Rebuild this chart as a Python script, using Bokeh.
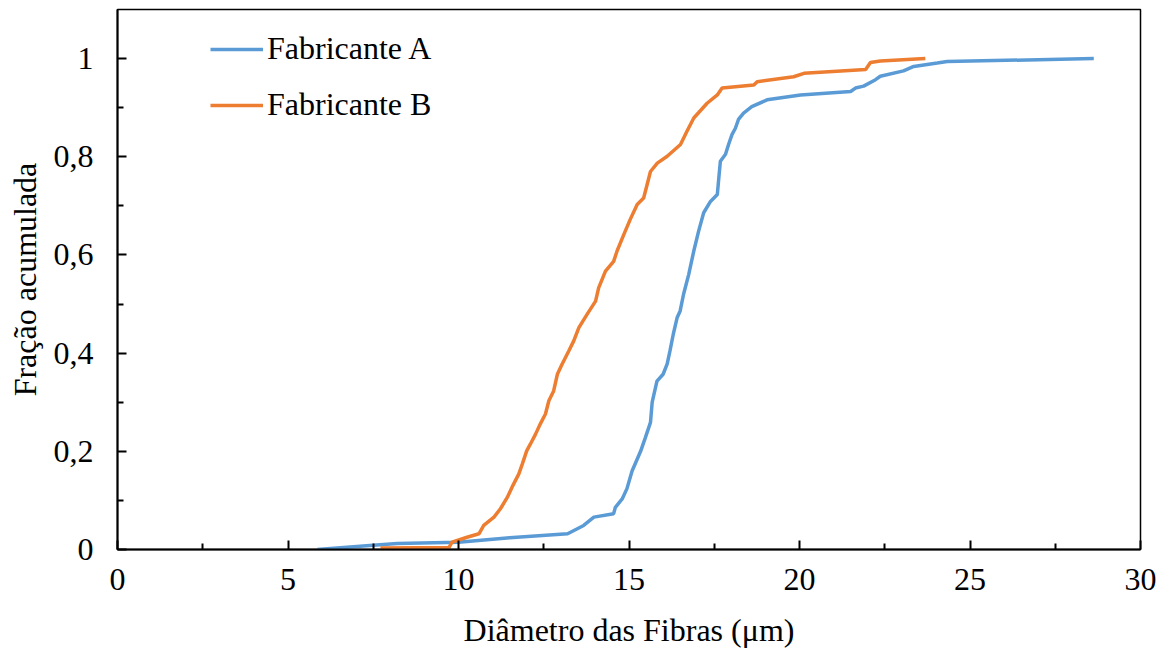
from bokeh.plotting import figure
from bokeh.models import Range1d, FixedTicker, CustomJSTickFormatter, Legend, LegendItem
from bokeh.embed import file_html
from bokeh.resources import INLINE

# Fabricante A
xA = [5.86, 7.4, 8.2, 10.0, 11.5, 13.2, 13.67, 13.97, 14.55, 14.6, 14.8, 14.94, 15.09, 15.34,
      15.48, 15.63, 15.68, 15.82, 16.0, 16.12, 16.2, 16.3, 16.41, 16.5, 16.6, 16.75, 16.9,
      17.04, 17.19, 17.39, 17.59, 17.63, 17.68, 17.83, 17.92, 18.02, 18.12, 18.21, 18.36,
      18.6, 19.05, 20.03, 21.5, 21.64, 21.88, 22.23, 22.37, 23.05, 23.35, 24.04, 24.33, 28.63]
yA = [0.0, 0.008, 0.012, 0.015, 0.024, 0.032, 0.049, 0.066, 0.073, 0.086, 0.103, 0.124, 0.16,
      0.20, 0.228, 0.259, 0.30, 0.343, 0.357, 0.378, 0.404, 0.439, 0.472, 0.486, 0.52, 0.56,
      0.608, 0.648, 0.686, 0.709, 0.723, 0.754, 0.791, 0.805, 0.825, 0.845, 0.858, 0.876,
      0.889, 0.902, 0.916, 0.926, 0.933, 0.94, 0.944, 0.957, 0.964, 0.975, 0.984, 0.991,
      0.994, 1.0]

# Fabricante B
xB = [7.71, 9.72, 9.81, 10.25, 10.6, 10.74, 11.04, 11.23, 11.43, 11.57, 11.77, 11.87, 12.0,
      12.11, 12.26, 12.4, 12.55, 12.65, 12.79, 12.9, 13.04, 13.23, 13.38, 13.53, 13.77, 14.02,
      14.11, 14.31, 14.55, 14.65, 14.85, 15.04, 15.24, 15.43, 15.53, 15.63, 15.83, 16.12,
      16.51, 16.7, 16.9, 17.29, 17.59, 17.73, 18.66, 18.76, 19.83, 20.13, 21.94, 22.08,
      22.37, 23.69]
yB = [0.003, 0.004, 0.015, 0.025, 0.032, 0.049, 0.066, 0.083, 0.106, 0.127, 0.154, 0.174,
      0.201, 0.215, 0.235, 0.256, 0.276, 0.303, 0.323, 0.357, 0.378, 0.404, 0.425, 0.452,
      0.479, 0.506, 0.533, 0.567, 0.587, 0.608, 0.642, 0.673, 0.703, 0.716, 0.743, 0.77,
      0.787, 0.801, 0.825, 0.852, 0.879, 0.909, 0.926, 0.94, 0.946, 0.953, 0.963, 0.97,
      0.978, 0.992, 0.995, 1.0]

series_names = ["Fabricante A", "Fabricante B"]
x_ticks = [0, 5, 10, 15, 20, 25, 30]
x_minor = [2.5, 7.5, 12.5, 17.5, 22.5, 27.5]
y_ticks = [0, 0.2, 0.4, 0.6, 0.8, 1.0]
y_minor = [0.1, 0.3, 0.5, 0.7, 0.9]

FONT = "Liberation Serif"
FS = "32px"

p = figure(width=1165, height=650, output_backend="svg", toolbar_location=None,
           x_range=Range1d(0, 30), y_range=Range1d(0, 1.1),
           min_border_left=117, min_border_right=25, min_border_top=9, min_border_bottom=101)

p.xgrid.visible = False
p.ygrid.visible = False
p.outline_line_color = "black"
p.outline_line_width = 1.5

rA = p.line(xA, yA, line_color="#5B9BD5", line_width=3.5)
rB = p.line(xB, yB, line_color="#ED7D31", line_width=3.5)

for ax in (p.xaxis[0], p.yaxis[0]):
    ax.axis_line_color = "black"
    ax.axis_line_width = 2
    ax.major_tick_line_color = "black"
    ax.major_tick_line_width = 2
    ax.minor_tick_line_color = "black"
    ax.minor_tick_line_width = 2
    ax.major_tick_in = 9
    ax.major_tick_out = 0
    ax.minor_tick_in = 6
    ax.minor_tick_out = 0
    ax.major_label_text_font = FONT
    ax.major_label_text_font_size = FS
    ax.major_label_text_color = "black"
    ax.axis_label_text_font = FONT
    ax.axis_label_text_font_size = FS
    ax.axis_label_text_font_style = "normal"
    ax.axis_label_text_color = "black"

p.xaxis[0].ticker = FixedTicker(ticks=x_ticks, minor_ticks=x_minor)
p.yaxis[0].ticker = FixedTicker(ticks=y_ticks, minor_ticks=y_minor)
p.yaxis[0].formatter = CustomJSTickFormatter(
    code="var s = tick.toFixed(1).replace('.', ','); return s.replace(/,0$/, '');")
p.xaxis[0].axis_label = "Diâmetro das Fibras (μm)"
p.yaxis[0].axis_label = "Fração acumulada"
p.xaxis[0].major_label_standoff = 19
p.yaxis[0].major_label_standoff = 24
p.xaxis[0].axis_label_standoff = 19
p.yaxis[0].axis_label_standoff = 8

legend = Legend(items=[LegendItem(label=series_names[0], renderers=[rA]),
                       LegendItem(label=series_names[1], renderers=[rB])],
                location=(93, 426), orientation="vertical",
                padding=0, margin=0, spacing=19,
                glyph_width=53, label_standoff=4,
                label_text_font=FONT, label_text_font_size=FS, label_text_color="black",
                border_line_alpha=0, background_fill_alpha=0)
p.add_layout(legend)

open("out.html", "w").write(file_html(p, INLINE))
